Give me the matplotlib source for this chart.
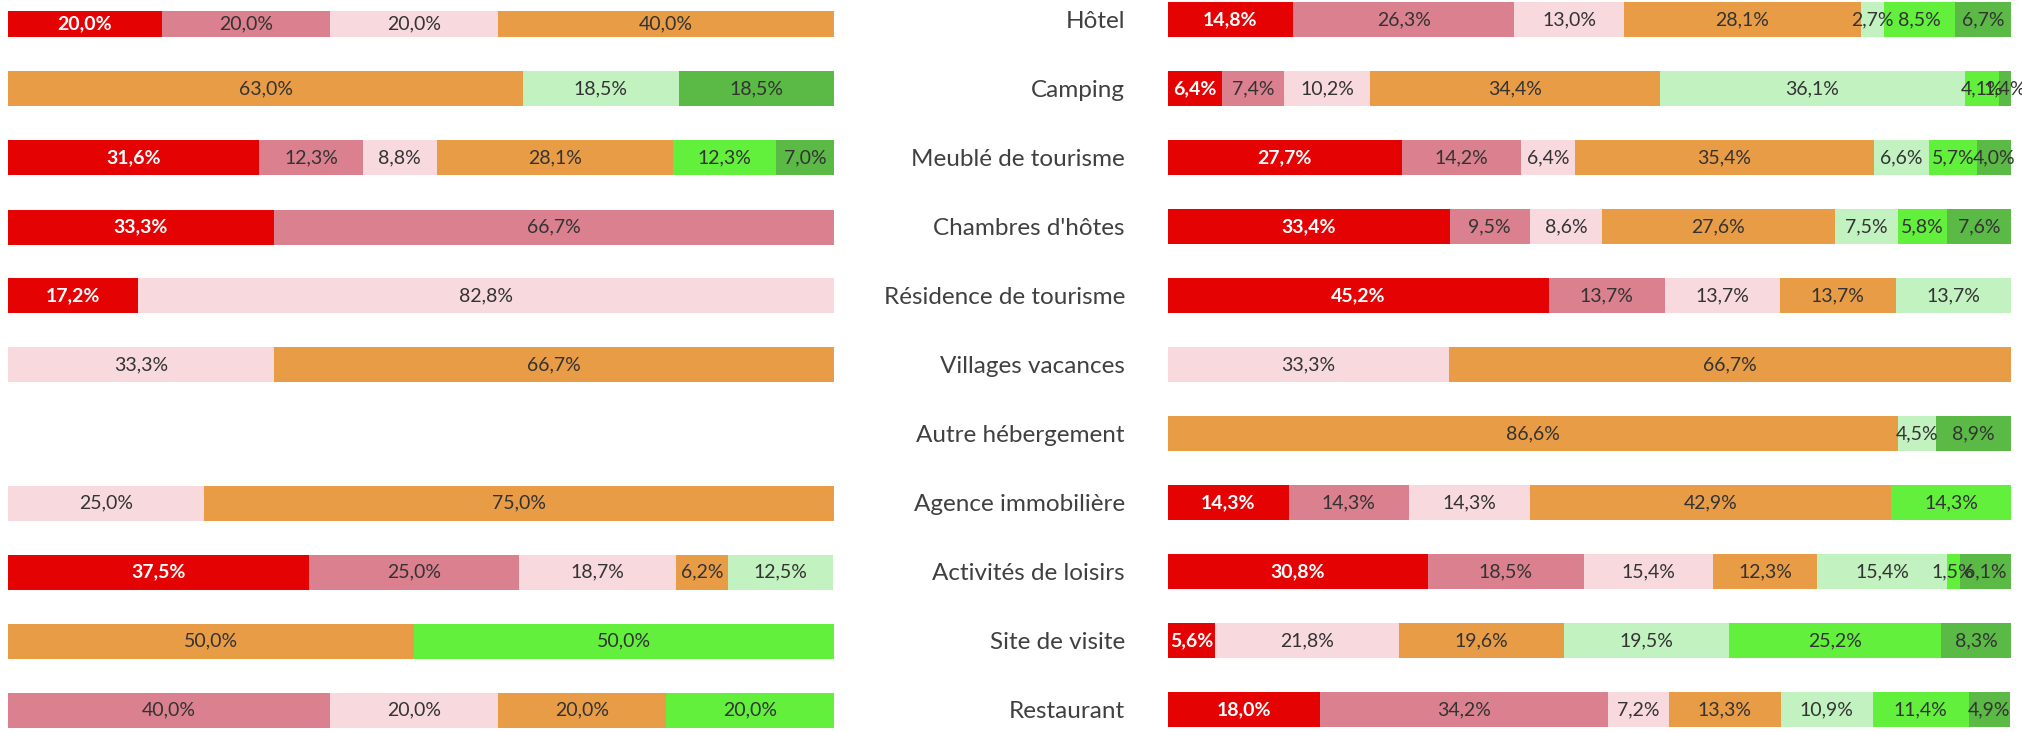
import numpy as np
import matplotlib.pyplot as plt

plt.rcParams['font.family'] = ['Lato', 'DejaVu Sans']

# 7 niveaux de réponse (du rouge au vert)
levels = ["N1", "N2", "N3", "N4", "N5", "N6", "N7"]
colors = ["#E40202", "#DA808E", "#F8D9DE", "#E99C46", "#C2F2C0", "#62F03C", "#5BB946"]

# panneau de droite : catégories
categories = [
    "Hôtel", "Camping", "Meublé de tourisme", "Chambres d'hôtes",
    "Résidence de tourisme", "Villages vacances", "Autre hébergement",
    "Agence immobilière", "Activités de loisirs", "Site de visite", "Restaurant",
]

# valeurs (%) par niveau, une ligne par catégorie
right_values = np.array([
    [14.8, 26.3, 13.0, 28.1, 2.7, 8.5, 6.7],
    [6.4, 7.4, 10.2, 34.4, 36.1, 4.1, 1.4],
    [27.7, 14.2, 6.4, 35.4, 6.6, 5.7, 4.0],
    [33.4, 9.5, 8.6, 27.6, 7.5, 5.8, 7.6],
    [45.2, 13.7, 13.7, 13.7, 13.7, 0, 0],
    [0, 0, 33.3, 66.7, 0, 0, 0],
    [0, 0, 0, 86.6, 4.5, 0, 8.9],
    [14.3, 14.3, 14.3, 42.9, 0, 14.3, 0],
    [30.8, 18.5, 15.4, 12.3, 15.4, 1.5, 6.1],
    [5.6, 0, 21.8, 19.6, 19.5, 25.2, 8.3],
    [18.0, 34.2, 7.2, 13.3, 10.9, 11.4, 4.9],
])

# panneau de gauche (même ordre de lignes, sans libellés)
left_values = np.array([
    [20.0, 20.0, 20.0, 40.0, 0, 0, 0],
    [0, 0, 0, 63.0, 18.5, 0, 18.5],
    [31.6, 12.3, 8.8, 28.1, 0, 12.3, 7.0],
    [33.3, 66.7, 0, 0, 0, 0, 0],
    [17.2, 0, 82.8, 0, 0, 0, 0],
    [0, 0, 33.3, 66.7, 0, 0, 0],
    [0, 0, 0, 0, 0, 0, 0],
    [0, 0, 25.0, 75.0, 0, 0, 0],
    [37.5, 25.0, 18.7, 6.2, 12.5, 0, 0],
    [0, 0, 0, 50.0, 0, 50.0, 0],
    [0, 40.0, 20.0, 20.0, 0, 20.0, 0],
])

W, H = 2022, 732
fig = plt.figure(figsize=(W / 100, H / 100), dpi=100)

ROW0, PITCH, BAR_H = 20, 69, 35  # pixels


def ylim_for(top_px):
    return ((H - ROW0) / PITCH, (top_px - ROW0) / PITCH)


def draw(ax, values):
    y = np.arange(values.shape[0])
    left = np.zeros(values.shape[0])
    for j in range(values.shape[1]):
        vals = values[:, j]
        bars = ax.barh(y, vals, left=left, height=BAR_H / PITCH,
                       color=colors[j], edgecolor="none")
        labels = [f"{v:.1f}%".replace(".", ",") if v > 0 else "" for v in vals]
        if j == 0:
            ax.bar_label(bars, labels=labels, label_type="center",
                         color="white", fontsize=14, fontweight="bold")
        else:
            ax.bar_label(bars, labels=labels, label_type="center",
                         color="#333333", fontsize=14)
        left += vals
    for s in ax.spines.values():
        s.set_visible(False)
    ax.set_xticks([])


# gauche : zéro hors cadre (image rognée)
axl = fig.add_axes([8 / W, 0, 826 / W, (H - 11) / H])
draw(axl, left_values)
axl.set_xlim(14 / 8.4, 100)
axl.set_ylim(*ylim_for(11))
axl.set_yticks([])

axr = fig.add_axes([1168 / W, 0, 843 / W, 1])
draw(axr, right_values)
axr.set_xlim(0, 100)
axr.set_ylim(*ylim_for(0))
axr.set_yticks(np.arange(len(categories)))
axr.set_yticklabels(categories, fontsize=17.5, color="#404040")
axr.tick_params(axis="y", length=0, pad=31)

fig.savefig("out.png", dpi=100, facecolor="white")
